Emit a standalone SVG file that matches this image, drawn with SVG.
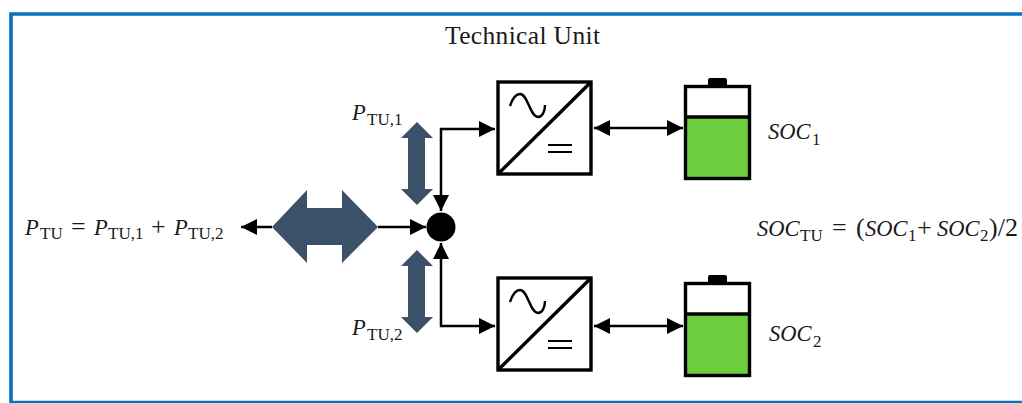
<svg xmlns="http://www.w3.org/2000/svg" width="1022" height="403" viewBox="0 0 1022 403">
<style>
.r{font-family:"Liberation Serif",serif;font-size:26px;fill:#1a1a1a}
.t{font-family:"Liberation Serif",serif;font-size:25.500px;fill:#1a1a1a}
.s{font-family:"Liberation Serif",serif;font-size:17px;fill:#1a1a1a}
.i{font-family:"Liberation Serif",serif;font-style:italic;font-size:22.500px;fill:#1a1a1a}
.l{fill:none;stroke:#000;stroke-width:2.500}
.b{fill:none;stroke:#000;stroke-width:3.400}
.big{fill:#3b5069}
</style>
<defs>
<marker id="a" markerUnits="userSpaceOnUse" markerWidth="18" markerHeight="18" refX="16" refY="9" orient="auto-start-reverse"><path d="M0 1L16 9L0 17Z" fill="#000"/></marker>
<g id="conv">
<rect x="498" y="82" width="93" height="92" fill="#fff" stroke="#000" stroke-width="3.400"/>
<path d="M498 174L591 82" class="b"/>
<path d="M510 106C513 97 516 94 520 94C528 94 530 117 538 117C542 117 545 112 545 105" fill="none" stroke="#000" stroke-width="2.400"/>
<path d="M548 145H572M548 152H572" fill="none" stroke="#000" stroke-width="2"/>
</g>
<g id="batt">
<rect x="708" y="78" width="19" height="10" rx="2" fill="#000"/>
<rect x="685.500" y="86.500" width="64" height="92" fill="#fff"/>
<rect x="686" y="117" width="63" height="61" fill="#6cce3c"/>
<path d="M685.500 117H749.500" class="b"/>
<rect x="685.500" y="86.500" width="64" height="92" fill="none" stroke="#000" stroke-width="3.400"/>
</g>
</defs>
<rect width="1022" height="403" fill="#fff"/>
<path d="M11 403V14H1022" fill="none" stroke="#0a72bd" stroke-width="3.600"/>
<path d="M11 401.900H1022" fill="none" stroke="#0a72bd" stroke-width="2.400"/>
<text id="title" class="t" x="445" y="44" textLength="155">Technical Unit</text>

<g id="connectors">
<path class="l" d="M272 227H241" marker-end="url(#a)"/>
<path class="l" d="M378 227H426" marker-end="url(#a)"/>
<path class="l" d="M441 211V129H495" marker-start="url(#a)" marker-end="url(#a)"/>
<path class="l" d="M441 243V326H495" marker-start="url(#a)" marker-end="url(#a)"/>
<path class="l" d="M594 128H683" marker-start="url(#a)" marker-end="url(#a)"/>
<path class="l" d="M594 326H683" marker-start="url(#a)" marker-end="url(#a)"/>
</g>

<g id="main-arrow"><path class="big" d="M272 227L307 190V208H342V190L378 227L342 263V245H307V263Z"/></g>
<g id="arrow-tu1"><path class="big" d="M417 122L433 138H425V189H433L417 205L401 189H408V138H401Z"/></g>
<g id="arrow-tu2"><path class="big" d="M417 250L433 266H425V317H433L417 333L401 317H408V266H401Z"/></g>
<g id="junction"><circle cx="441" cy="227" r="14.500" fill="#000"/></g>
<g id="converter-1"><use href="#conv"/></g>
<g id="converter-2"><use href="#conv" y="196"/></g>
<g id="battery-1"><use href="#batt"/></g>
<g id="battery-2"><use href="#batt" y="197"/></g>

<g id="label-ptu">
<text class="i" x="25" y="235">P</text><text class="s" x="40" y="239">TU</text>
<text class="r" x="71" y="235">=</text>
<text class="i" x="94" y="235">P</text><text class="s" x="108" y="239">TU,1</text>
<text class="r" x="151" y="235">+</text>
<text class="i" x="174" y="235">P</text><text class="s" x="188" y="239">TU,2</text>
</g>
<g id="label-ptu1"><text class="i" x="352" y="120">P</text><text class="s" x="367" y="125">TU,1</text></g>
<g id="label-ptu2"><text class="i" x="352" y="335">P</text><text class="s" x="367" y="340">TU,2</text></g>
<g id="label-soc1"><text class="i" x="768" y="139">SOC</text><text class="s" x="812" y="145">1</text></g>
<g id="label-soc2"><text class="i" x="769" y="341">SOC</text><text class="s" x="813" y="347">2</text></g>
<g id="label-soctu">
<text class="i" x="757" y="236">SOC</text><text class="s" x="800" y="241">TU</text>
<text class="r" x="832" y="236">=</text>
<text class="r" x="856" y="236">(</text>
<text class="i" x="865" y="236">SOC</text><text class="s" x="908" y="241">1</text>
<text class="r" x="917" y="236">+</text>
<text class="i" x="937" y="236">SOC</text><text class="s" x="980" y="241">2</text>
<text class="r" x="989" y="236">)/2</text>
</g>
</svg>
